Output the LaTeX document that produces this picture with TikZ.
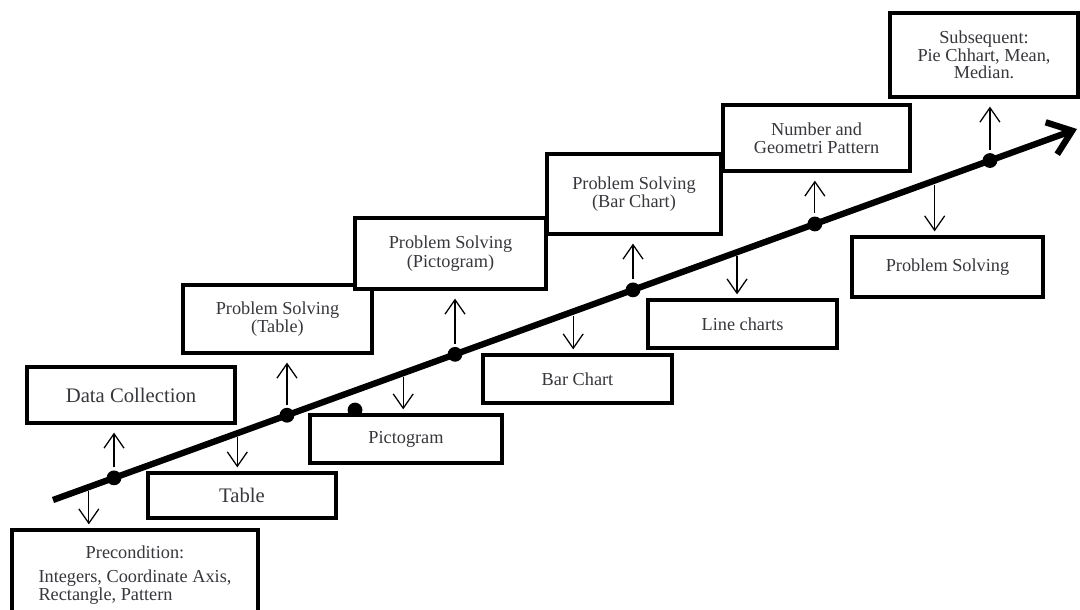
\documentclass[tikz,border=0pt]{standalone}
\usepackage{fontspec}
\setmainfont{Liberation Serif}
\usetikzlibrary{arrows.meta}
\definecolor{c1}{RGB}{55,55,60}

\begin{document}
\begin{tikzpicture}[x=0.025cm,y=-0.025cm,
    box/.style={draw,line width=2.3pt,fill=white,text=c1,align=center,inner sep=2pt,
      font=\fontsize{13}{13}\selectfont},
    big/.style={font=\fontsize{14.7}{16}\selectfont},
    dot/.style={circle,fill=black,inner sep=0pt,minimum size=0.37cm},
    main/.style={line width=4.5pt,-{Straight Barb[length=0.55cm,width=0.85cm]}},
    up/.style={line width=0.9pt,-{Straight Barb[length=0.36cm,width=0.5cm]},shorten >=0.2cm},
    down/.style={line width=0.9pt,-{Straight Barb[length=0.36cm,width=0.5cm]},shorten <=0.1cm,shorten >=0.1cm}]
  \clip (0,0) rectangle (1080,610);

  % time line
  \coordinate (s) at (53,500);
  \coordinate (e) at (1077,129);
  \draw[main] (s) -- (e)
    coordinate[pos=.035] (l0) coordinate[pos=.18] (l1) coordinate[pos=.342] (l2)
    coordinate[pos=.508] (l3) coordinate[pos=.668] (l4) coordinate[pos=.861] (l5)
    node[dot,pos=.0596] (d1) {} node[dot,pos=.2285] (d2) {} node[dot,pos=.3926] (d3) {}
    node[dot,pos=.5664] (d4) {} node[dot,pos=.744] (d5) {} node[dot,pos=.915] (d6) {};
  \node[dot] (dx) at (355,410) {};

  % upper boxes
  \node[box,big,minimum width=5.2cm,minimum height=1.4cm] (dc) at (131,395) {Data Collection};
  \node[box,minimum width=4.725cm,minimum height=1.7cm] (pst) at (277.5,319) {Problem Solving\\(Table)};
  \node[box,minimum width=4.775cm,minimum height=1.775cm] (psp) at (450.5,253.5) {Problem Solving\\(Pictogram)};
  \node[box,minimum width=4.35cm,minimum height=2cm] (psb) at (634,194) {Problem Solving\\(Bar Chart)};
  \node[box,minimum width=4.675cm,minimum height=1.65cm] (ngp) at (816.5,138) {Number and\\Geometri Pattern};
  \node[box,minimum width=4.7cm,minimum height=2.1cm,font=\fontsize{13}{11}\selectfont] (sub) at (984,55) {Subsequent:\\Pie Chhart, Mean,\\Median.};

  % lower boxes
  \node[box,minimum width=6.15cm,minimum height=2.3cm] (pre) at (135,576)
    {\begin{tabular}{@{}l@{}}\multicolumn{1}{@{}c@{}}{Precondition:}\\[3.5pt]Integers, Coordinate Axis,\\Rectangle, Pattern\end{tabular}};
  \node[box,big,minimum width=4.7cm,minimum height=1.125cm] (tab) at (242,495.5) {Table};
  \node[box,minimum width=4.8cm,minimum height=1.2cm] (pic) at (406,439) {Pictogram};
  \node[box,minimum width=4.725cm,minimum height=1.2cm] (bar) at (577.5,379) {Bar Chart};
  \node[box,minimum width=4.725cm,minimum height=1.2cm] (lin) at (742.5,324) {Line charts};
  \node[box,minimum width=4.775cm,minimum height=1.5cm] (psr) at (947.5,267) {Problem Solving};

  % arrows
  \draw[up] (d1) -- (d1 |- dc.south);
  \draw[up] (d2) -- (d2 |- pst.south);
  \draw[up] (d3) -- (d3 |- psp.south);
  \draw[up] (d4) -- (d4 |- psb.south);
  \draw[up] (d5) -- (d5 |- ngp.south);
  \draw[up] (d6) -- (d6 |- sub.south);
  \draw[down] (l0) -- (l0 |- pre.north);
  \draw[down] (l1) -- (l1 |- tab.north);
  \draw[down] (l2) -- (l2 |- pic.north);
  \draw[down] (l3) -- (l3 |- bar.north);
  \draw[down] (l4) -- (l4 |- lin.north);
  \draw[down] (l5) -- (l5 |- psr.north);
\end{tikzpicture}
\end{document}
